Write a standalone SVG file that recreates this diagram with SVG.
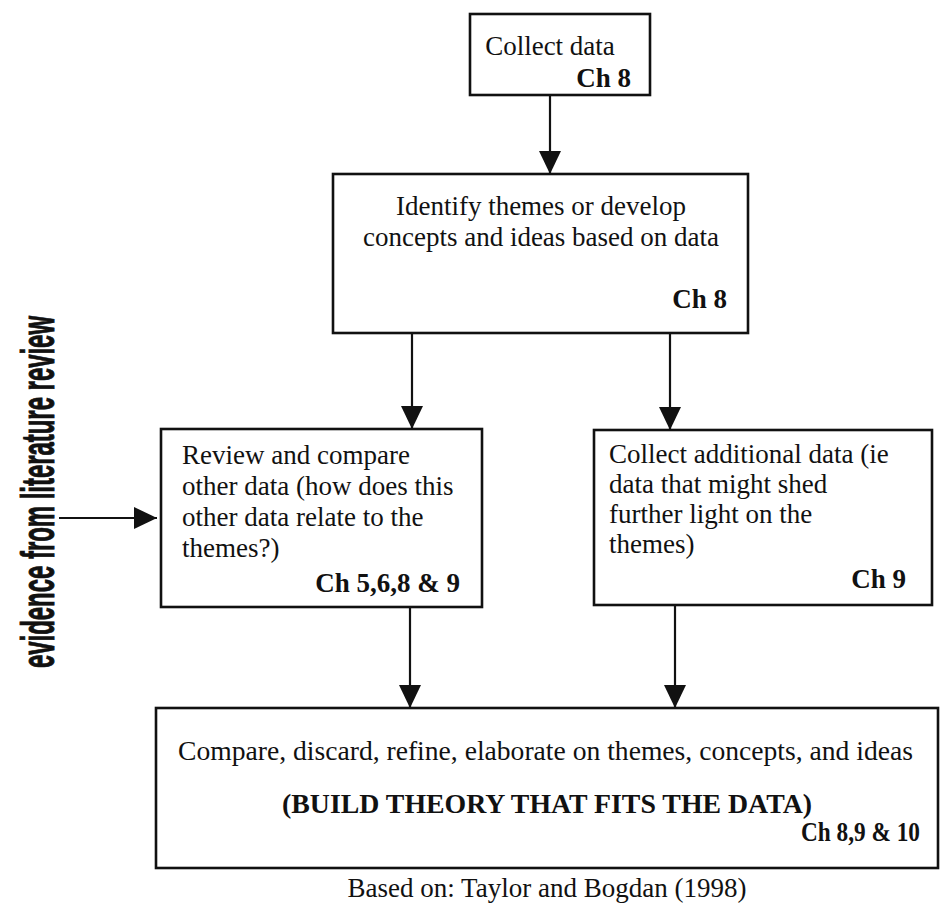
<svg xmlns="http://www.w3.org/2000/svg" width="942" height="907" viewBox="0 0 942 907">
  <style>
    .box { fill: #ffffff; stroke: #111111; stroke-width: 2.6; }
    .txt { font-family: "Liberation Serif", "Times New Roman", serif; font-size: 27px; fill: #111111; }
    .ch { font-family: "Liberation Serif", "Times New Roman", serif; font-size: 27px; font-weight: bold; fill: #111111; }
    .side { font-family: "Liberation Sans Narrow", "Liberation Sans", Arial, sans-serif; font-size: 22px; font-weight: bold; fill: #111111; stroke: #111111; stroke-width: 0.45; }
    .link { stroke: #111111; stroke-width: 2.2; fill: none; marker-end: url(#arrowhead); }
  </style>
  <defs>
    <marker id="arrowhead" viewBox="0 0 23 22" refX="23" refY="11" markerWidth="23" markerHeight="22" markerUnits="userSpaceOnUse" orient="auto">
      <path d="M0,0 L23,11 L0,22 Z" fill="#111111"/>
    </marker>
  </defs>
  <rect width="942" height="907" fill="#ffffff"/>

  <!-- process steps -->
  <g id="collect-data">
    <rect class="box" x="470" y="14" width="180" height="81"/>
    <text class="txt" x="550" y="55" text-anchor="middle">Collect data</text>
    <text class="ch" x="631" y="87" text-anchor="end">Ch 8</text>
  </g>

  <g id="identify-themes">
    <rect class="box" x="333" y="174" width="415" height="159"/>
    <text class="txt" x="541" y="215" text-anchor="middle">Identify themes or develop</text>
    <text class="txt" x="541" y="246" text-anchor="middle">concepts and ideas based on data</text>
    <text class="ch" x="727" y="308" text-anchor="end">Ch 8</text>
  </g>

  <g id="review-compare">
    <rect class="box" x="161" y="429" width="321" height="178"/>
    <text class="txt" x="182" y="464">Review and compare</text>
    <text class="txt" x="182" y="495">other data (how does this</text>
    <text class="txt" x="182" y="526">other data relate to the</text>
    <text class="txt" x="182" y="557">themes?)</text>
    <text class="ch" x="460" y="592" text-anchor="end">Ch 5,6,8 &amp; 9</text>
  </g>

  <g id="collect-additional">
    <rect class="box" x="594" y="430" width="338" height="175"/>
    <text class="txt" x="609" y="463">Collect additional data (ie</text>
    <text class="txt" x="609" y="493">data that might shed</text>
    <text class="txt" x="609" y="523">further light on the</text>
    <text class="txt" x="609" y="553">themes)</text>
    <text class="ch" x="906" y="588" text-anchor="end">Ch 9</text>
  </g>

  <g id="build-theory">
    <rect class="box" x="156" y="708" width="782" height="160"/>
    <text class="txt" x="178" y="760" textLength="735" lengthAdjust="spacingAndGlyphs">Compare, discard, refine, elaborate on themes, concepts, and ideas</text>
    <text class="ch" x="547" y="813" text-anchor="middle" textLength="530" lengthAdjust="spacingAndGlyphs">(BUILD THEORY THAT FITS THE DATA)</text>
    <text class="ch" x="920" y="841" text-anchor="end" textLength="119" lengthAdjust="spacingAndGlyphs">Ch 8,9 &amp; 10</text>
  </g>

  <!-- side label: tall condensed lettering, read bottom to top -->
  <g id="literature-evidence">
    <text class="side" transform="translate(54,668) rotate(-90) scale(1,2.1)" textLength="352" lengthAdjust="spacingAndGlyphs">evidence from literature review</text>
  </g>

  <g id="source-note">
    <text class="txt" x="547" y="897" text-anchor="middle">Based on: Taylor and Bogdan (1998)</text>
  </g>

  <!-- connectors -->
  <g id="connectors">
    <line class="link" x1="59" y1="518" x2="157" y2="518"/>
    <line class="link" x1="550" y1="95" x2="550" y2="174"/>
    <line class="link" x1="412" y1="333" x2="412" y2="429"/>
    <line class="link" x1="670" y1="333" x2="670" y2="430"/>
    <line class="link" x1="410" y1="607" x2="410" y2="708"/>
    <line class="link" x1="675" y1="605" x2="675" y2="708"/>
  </g>
</svg>
